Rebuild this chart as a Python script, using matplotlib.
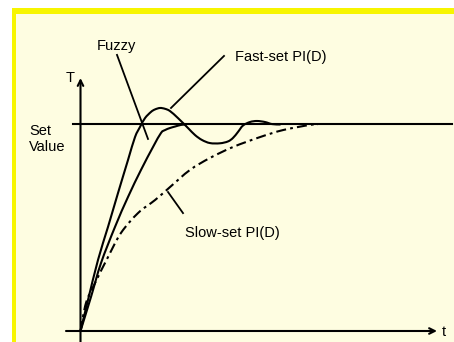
import matplotlib
matplotlib.use("Agg")
import numpy as np
import matplotlib.pyplot as plt
from matplotlib.patches import Rectangle, PathPatch
from matplotlib.path import Path

plt.rcParams['font.family'] = ['Liberation Sans', 'DejaVu Sans']
plt.rcParams['lines.scale_dashes'] = False

# Step responses, T in % of set value, t in arbitrary time units
fast_t = [0, 0.75, 1.75, 2.75, 3.75, 4.75, 5.45, 5.95, 6.45, 7.05, 7.45, 7.95,
          8.45, 8.95, 9.75, 10.75, 11.45, 12.15, 12.95, 13.95, 14.75, 15.25,
          15.75, 16.25, 16.95, 17.65, 18.45, 19.15, 19.95]
fast_T = [0, 15.0, 34.4, 50.4, 66.8, 82.8, 93.9, 98.8, 103.1, 106.1, 107.3, 108.0,
          107.6, 106.5, 103.1, 98.3, 94.9, 92.5, 91.0, 90.9, 91.8, 93.5,
          96.4, 99.5, 101.2, 101.7, 101.2, 100.2, 100.0]

fuzzy_t = [0, 1.05, 2.05, 3.45, 4.75, 6.05, 7.25, 8.05, 8.45, 8.95, 9.45, 10.05, 10.55]
fuzzy_T = [0, 16.5, 32.9, 50.4, 64.9, 78.0, 89.1, 95.9, 97.3, 98.3, 99.0, 99.8, 100.0]

slow_t = [0, 0.55, 1.45, 2.75, 4.05, 5.75, 7.45, 8.95, 10.95, 12.95, 15.25,
          17.95, 20.25, 22.95, 23.75]
slow_T = [0, 13.6, 23.2, 35.8, 47.5, 57.1, 63.4, 69.7, 78.0, 83.8, 89.1,
          93.9, 97.3, 99.8, 100.0]

set_value = 100


def smooth_path(xs, ys):
    # Catmull-Rom through the points, as cubic Bezier segments
    p = np.column_stack([xs, ys]).astype(float)
    verts = [p[0]]
    codes = [Path.MOVETO]
    n = len(p)
    for i in range(n - 1):
        p0 = p[i - 1] if i > 0 else p[i]
        p3 = p[i + 2] if i + 2 < n else p[i + 1]
        c1 = p[i] + (p[i + 1] - p0) / 6
        c2 = p[i + 1] - (p3 - p[i]) / 6
        verts += [c1, c2, p[i + 1]]
        codes += [Path.CURVE4] * 3
    return Path(verts, codes)


fig = plt.figure(figsize=(4.54, 3.42), dpi=100)
fig.patch.set_facecolor('white')

# yellow frame with cream panel
fig.patches.append(Rectangle((12 / 454, 0), 1, 1 - 8 / 342, transform=fig.transFigure,
                             facecolor='#F7F500', edgecolor='none', zorder=-2))
fig.patches.append(Rectangle((16 / 454, 0), 1, 1 - 14 / 342, transform=fig.transFigure,
                             facecolor='#FEFDE1', edgecolor='none', zorder=-1))

ax = fig.add_axes([0, 0, 1, 1])
ax.set_facecolor('none')
ax.set_xlim(-8.05, 37.35)
ax.set_ylim(-5.33, 160.29)
ax.axis('off')

lw = 1.5
# axes with arrows
ax.annotate('', xy=(0, 122.5), xytext=(0, -6),
            arrowprops=dict(arrowstyle='->', lw=lw, color='black',
                            shrinkA=0, shrinkB=0, mutation_scale=10))
ax.annotate('', xy=(35.65, 0), xytext=(-1.45, 0),
            arrowprops=dict(arrowstyle='->', lw=lw, color='black',
                            shrinkA=0, shrinkB=0, mutation_scale=10))
ax.text(-1.0, 122.5, 'T', fontsize=10.5, ha='center', va='center')
ax.text(36.35, -0.5, 't', fontsize=10.5, ha='center', va='center')

# set value line
ax.plot([-0.75, 37.15], [set_value, set_value], color='black', lw=lw)
ax.text(-5.15, 93.0, 'Set\nValue', fontsize=10.5, ha='left', va='center', linespacing=1.25)

# curves
ax.add_patch(PathPatch(smooth_path(fast_t, fast_T), fill=False, edgecolor='black',
                       lw=lw, capstyle='round', joinstyle='round'))
ax.add_patch(PathPatch(smooth_path(fuzzy_t, fuzzy_T), fill=False, edgecolor='black',
                       lw=lw, capstyle='round', joinstyle='round'))
slow = PathPatch(smooth_path(slow_t, slow_T), fill=False, edgecolor='black',
                 lw=lw, capstyle='butt')
slow.set_linestyle((0, (7.2, 3, 2, 3)))
ax.add_patch(slow)

# labels with leader lines
ax.text(1.65, 138.0, 'Fuzzy', fontsize=10.5, ha='left', va='center')
ax.plot([3.65, 6.75], [133.7, 93.0], color='black', lw=1.3)

ax.text(15.45, 132.7, 'Fast-set PI(D)', fontsize=10.5, ha='left', va='center')
ax.plot([14.35, 9.05], [133.2, 108.0], color='black', lw=1.3)

ax.text(10.45, 47.5, 'Slow-set PI(D)', fontsize=10.5, ha='left', va='center')
ax.plot([8.75, 10.25], [67.3, 57.1], color='black', lw=1.3)

fig.savefig('out.png', dpi=100)
